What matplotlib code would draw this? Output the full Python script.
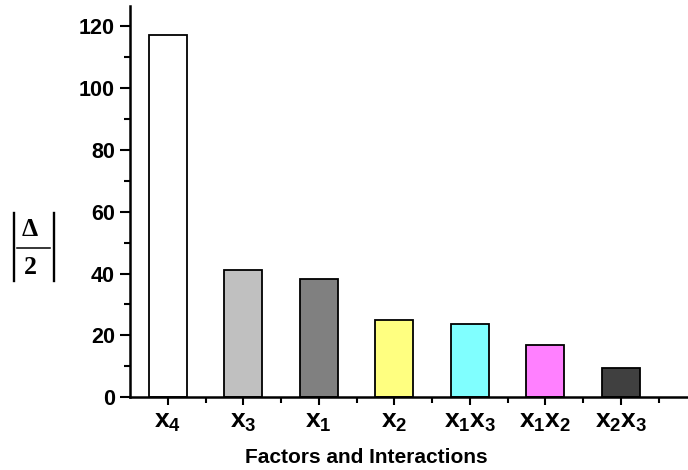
import matplotlib
matplotlib.use("Agg")
import matplotlib.pyplot as plt
from matplotlib.lines import Line2D
from matplotlib.ticker import MultipleLocator, FixedLocator

plt.rcParams['font.family'] = ['Liberation Sans', 'DejaVu Sans']
plt.rcParams['mathtext.fontset'] = 'custom'
plt.rcParams['mathtext.rm'] = 'Liberation Sans:bold'
plt.rcParams['mathtext.bf'] = 'Liberation Sans:bold'
plt.rcParams['mathtext.it'] = 'Liberation Sans:bold'

# data
factors = [r'$\mathrm{x_4}$', r'$\mathrm{x_3}$', r'$\mathrm{x_1}$', r'$\mathrm{x_2}$',
           r'$\mathrm{x_1x_3}$', r'$\mathrm{x_1x_2}$', r'$\mathrm{x_2x_3}$']
effects = [117.1, 41.1, 38.1, 25.1, 23.6, 17.0, 9.3]
colors = ['#FFFFFF', '#C0C0C0', '#808080', '#FFFF80', '#80FFFF', '#FF80FF', '#404040']

W, H = 688, 470
fig = plt.figure(figsize=(W / 100, H / 100), dpi=100)
ax = fig.add_axes([0.189, 0.155, 0.811, 0.832])

pos = list(range(len(effects)))
ax.bar(pos, effects, width=0.5, color=colors, edgecolor='black', linewidth=1.3)

ax.set_xlim(-0.5, 6.89)
ax.set_ylim(0, 126.5)

for s in ['top', 'right']:
    ax.spines[s].set_visible(False)
for s in ['left', 'bottom']:
    ax.spines[s].set_linewidth(1.8)

ax.yaxis.set_major_locator(MultipleLocator(20))
ax.yaxis.set_minor_locator(MultipleLocator(10))
ax.set_xticks(pos)
ax.set_xticklabels(factors, fontsize=19)
ax.xaxis.set_minor_locator(FixedLocator([p + 0.5 for p in pos]))

ax.tick_params(axis='y', which='major', length=7, width=1.5, labelsize=15.5, pad=4)
ax.tick_params(axis='y', which='minor', length=4, width=1.5)
ax.tick_params(axis='x', which='major', length=6, width=1.5, pad=3)
ax.tick_params(axis='x', which='minor', length=4, width=1.5)
for lab in ax.get_yticklabels():
    lab.set_fontweight('bold')

fig.text(0.533, 0.027, 'Factors and Interactions', fontsize=15, fontweight='bold',
         ha='center', va='center')

# y label |Delta / 2| built from pieces, pixel positions from the top-left
def px(x, y):
    return x / W, 1 - y / H

serif = ['Liberation Serif', 'DejaVu Serif']
fig.text(*px(29.5, 229), '\u0394', fontsize=18.5, fontweight='bold', family=serif,
         ha='center', va='center')
fig.text(*px(30.5, 267), '2', fontsize=18.5, fontweight='bold', family=serif,
         ha='center', va='center')
for xs, ys, lw in [((17, 50), (248, 248), 1.1), ((13.5, 13.5), (213, 281), 1.7),
                   ((53.5, 53.5), (213, 281), 1.7)]:
    p0, p1 = px(xs[0], ys[0]), px(xs[1], ys[1])
    fig.add_artist(Line2D([p0[0], p1[0]], [p0[1], p1[1]], color='black', lw=lw,
                          transform=fig.transFigure))

fig.savefig('out.png', dpi=100)
